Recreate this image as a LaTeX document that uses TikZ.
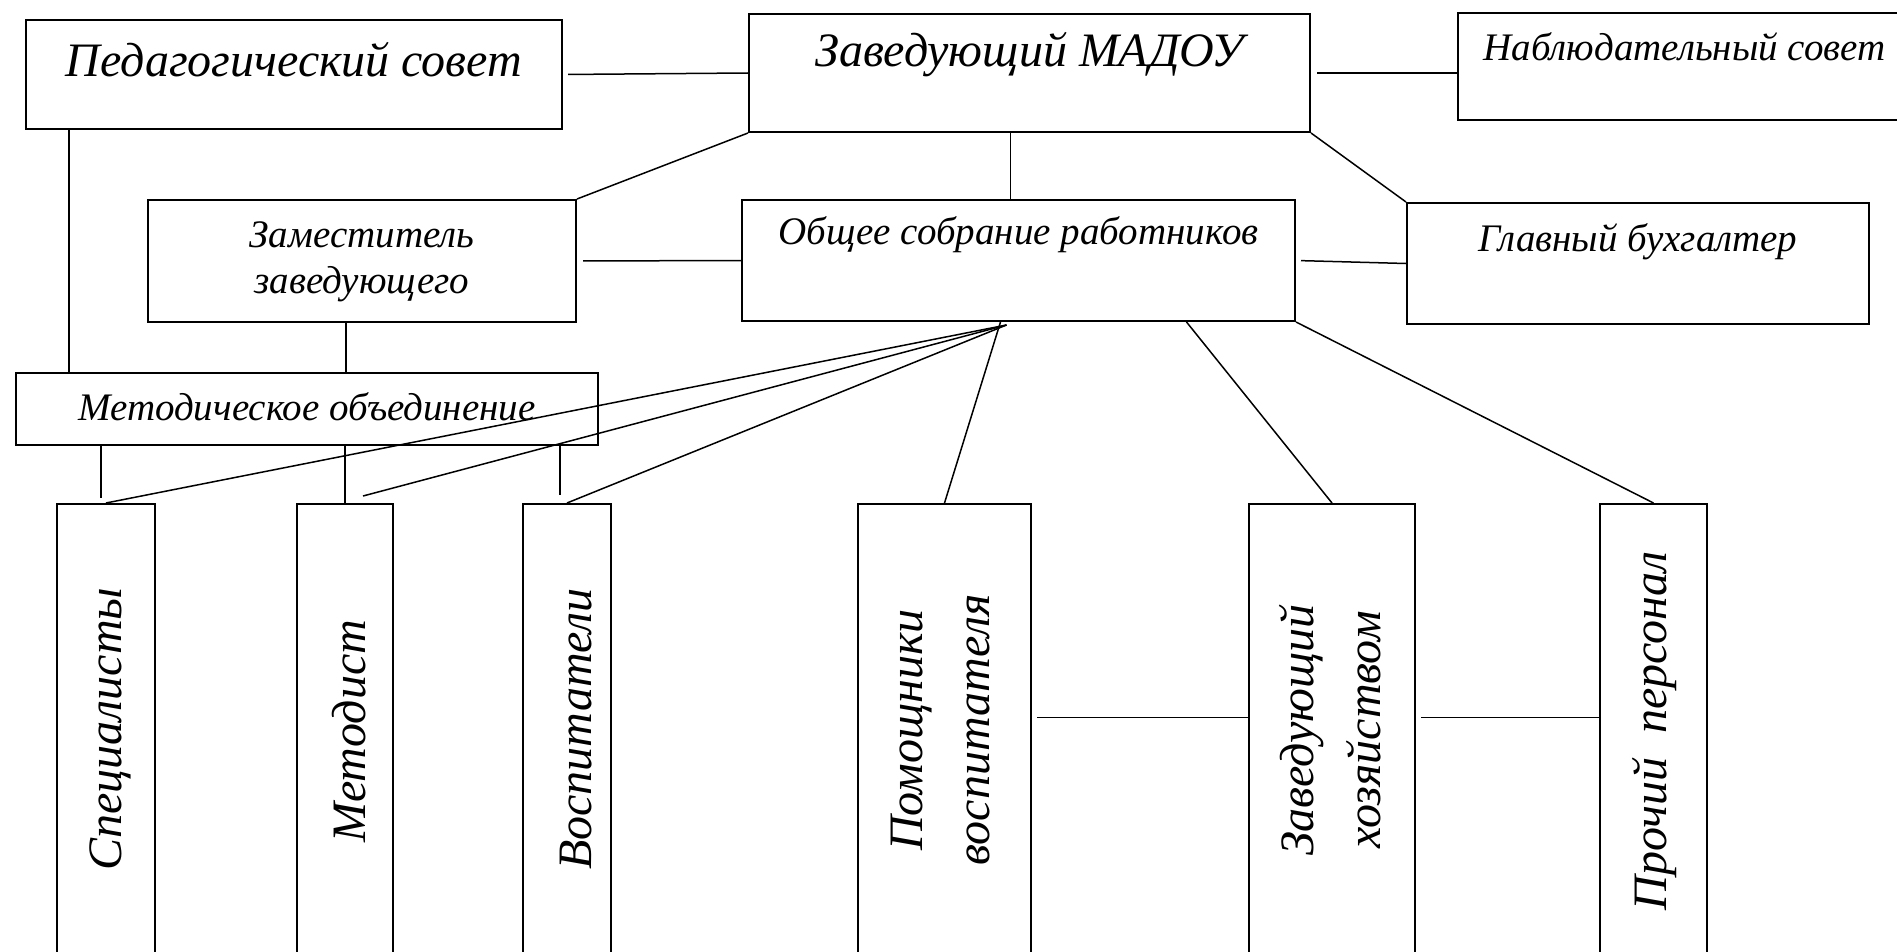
\documentclass[tikz,border=0pt]{standalone}
\usepackage{fontspec}
\setmainfont{Liberation Serif}
\usepackage{tikz}
\tikzset{
x=1pt, y=-1pt, % one unit is one pixel of the scheme, y goes down
unit/.style={draw, line width=2pt, inner sep=0pt, anchor=north west, align=center}, % boxes of the upper part
staff/.style={draw, line width=2pt, inner sep=0pt, anchor=north west, minimum height=457pt}, % tall boxes at the bottom
staff text/.style={rotate=90, anchor=base, align=center, inner sep=0pt, font=\fontsize{48}{67}\selectfont\itshape}, % text read from below
big/.style={font=\fontsize{48}{58}\selectfont\itshape},
small/.style={font=\fontsize{39}{46}\selectfont\itshape},
link/.style={line width=1.5pt}, % lines between the boxes
}

\begin{document}
\begin{tikzpicture}
    \useasboundingbox (0,0) rectangle (1897,952);
    \clip (0,0) rectangle (1897,952);
    % upper part
    \node[unit, big, minimum width=536pt, text height=57pt, text depth=52pt] (ped) at (25,19) {Педагогический совет};
    \node[unit, big, minimum width=561pt, text height=53pt, text depth=65pt] (zav) at (748,13) {Заведующий МАДОУ};
    \node[unit, small, minimum width=453pt, text height=48pt, text depth=59pt] (nab) at (1457,12) {Наблюдательный совет};
    \node[unit, small, minimum width=428pt, text height=93pt, text depth=29pt] (zam) at (147,199) {Заместитель\\заведующего};
    \node[unit, small, minimum width=553pt, text height=44pt, text depth=77pt] (obsh) at (741,199) {Общее собрание работников};
    \node[unit, small, minimum width=462pt, text height=48pt, text depth=73pt] (glav) at (1406,202) {Главный бухгалтер};
    \node[unit, small, minimum width=582pt, text height=47pt, text depth=25pt] (metod) at (15,372) {Методическое объединение};
    % staff
    \node[staff, minimum width=98pt] (spec) at (56,503) {};
    \node[staff, minimum width=96pt] (metodist) at (296,503) {};
    \node[staff, minimum width=88pt] (vosp) at (522,503) {};
    \node[staff, minimum width=173pt] (pom) at (857,503) {};
    \node[staff, minimum width=166pt] (zavhoz) at (1248,503) {};
    \node[staff, minimum width=107pt] (proch) at (1599,503) {};
    \node[staff text] (specT) at (121,729) {Специалисты};
    \node[staff text] (metodistT) at (365,731) {Методист};
    \node[staff text] (vospT) at (591,729) {Воспитатели};
    \node[staff text] (pomT) at (989,730) {Помощники\\воспитателя};
    \node[staff text] (zavhozT) at (1380,730) {Заведующий\\хозяйством};
    \node[staff text] (prochT) at (1666,731) {Прочий~~персонал};
    % free ends of some lines
    \coordinate (pedfoot) at ([xshift=44pt]ped.south west);
    \coordinate (zamfoot) at ([xshift=-16pt]zam.south);
    \coordinate (obshtop) at ([xshift=-8pt]obsh.north);
    \coordinate (specin) at ([xshift=-5pt, yshift=5pt]spec.north);
    \coordinate (vospin) at ([xshift=-7pt, yshift=8pt]vosp.north);
    \coordinate (hub) at ([xshift=-12pt, yshift=-3pt]obsh.south);
    \coordinate (pomside) at ([yshift=15pt]pom.east);
    \coordinate (hozside) at ([yshift=15pt]zavhoz.east);
    % lines
    \draw[link, shorten <=5pt] (ped.east) -- (zav.west);
    \draw[link, shorten <=6pt] (zav.east) -- (zav.east -| nab.west);
    \draw[link] (zav.south west) -- (zam.north east);
    \draw[link] (obshtop |- zav.south) -- (obshtop);
    \draw[link] (zav.south east) -- (glav.north west);
    \draw[link, shorten <=6pt] (zam.east) -- (obsh.west);
    \draw[link, shorten <=5pt] (obsh.east) -- (glav.west);
    \draw[link] (pedfoot) -- (pedfoot |- metod.north);
    \draw[link] (zamfoot) -- (zamfoot |- metod.north);
    \draw[link] (specin |- metod.south) -- (specin);
    \draw[link] (metodist.north |- metod.south) -- (metodist.north);
    \draw[link] (vospin |- metod.south) -- (vospin);
    \draw[link] (hub) -- (spec.north);
    \draw[link] (hub) -- ([xshift=18pt, yshift=7pt]metodist.north);
    \draw[link] (hub) -- (vosp.north);
    \draw[link] ([xshift=-18pt]obsh.south) -- (pom.north);
    \draw[link] ([xshift=168pt]obsh.south) -- (zavhoz.north);
    \draw[link] (obsh.south east) -- (proch.north);
    \draw[link, shorten <=5pt] (pomside) -- (pomside -| zavhoz.west);
    \draw[link, shorten <=5pt] (hozside) -- (hozside -| proch.west);
\end{tikzpicture}
\end{document}
